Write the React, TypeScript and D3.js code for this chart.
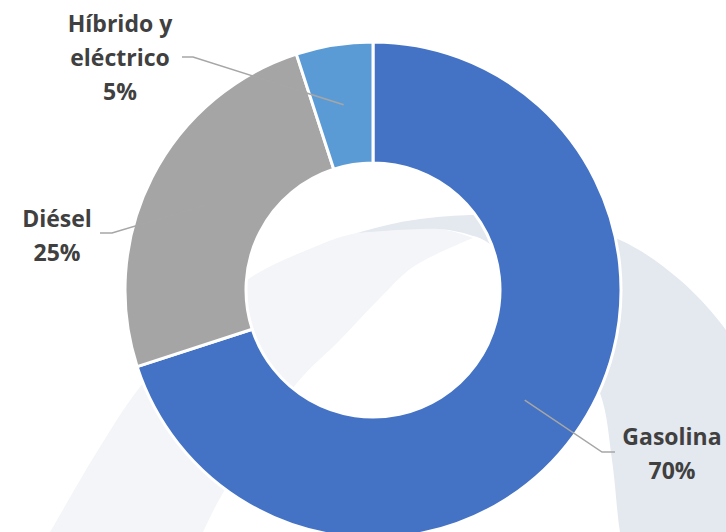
import { useEffect, useRef } from "react";
import * as d3 from "d3";

// chart data
const categories = ["Gasolina", "Diésel", "Híbrido y eléctrico"];
const values = [70, 25, 5];
const colors = ["#4472c4", "#a5a5a5", "#5b9bd5"];
const labelLines = [["Gasolina"], ["Diésel"], ["Híbrido y", "eléctrico"]];

const W = 726;
const H = 532;

// decorative swoosh shapes behind the chart (slide background)
const lightOuter: [number, number][] = [
  [40, 548], [50, 532], [95, 455], [140, 387], [195, 328], [250, 278],
  [307, 250], [357, 233], [440, 229], [473, 238],
];
const lightInner: [number, number][] = [
  [473, 238], [413, 267], [380, 298], [340, 340], [297, 383], [223, 493],
  [203, 532], [196, 548],
];
const darkOuter: [number, number][] = [
  [357, 233], [407, 221], [470, 215], [540, 218], [620, 240], [680, 280],
  [726, 330], [745, 362],
];
const darkInner: [number, number][] = [
  [624, 548], [620, 532], [612, 460], [600, 393], [560, 320], [487, 242],
  [470, 235], [440, 229], [357, 233],
];

// label layout: elbow of the leader, tail end, text centre and first baseline
const labelLayout = [
  { elbow: [602, 452], tail: [615, 452], tx: 672, ty: 445 },
  { elbow: [112, 233], tail: [100, 233], tx: 57, ty: 227 },
  { elbow: [193, 57], tail: [182, 57], tx: 120, ty: 32 },
];

export default function App() {
  const svgRef = useRef<SVGSVGElement>(null);

  useEffect(() => {
    const svg = d3.select(svgRef.current);
    svg.selectAll("*").remove();

    const edge = d3.line().curve(d3.curveCatmullRom.alpha(0.5));
    const band = (a: [number, number][], b: [number, number][], extra: [number, number][] = []) => {
      const p1 = edge(a) as string;
      const mid = extra.map((p) => `L${p[0]},${p[1]}`).join("");
      const p2 = (edge(b) as string).replace(/^M/, "L");
      return p1 + mid + p2 + "Z";
    };

    svg.append("path").attr("d", band(lightOuter, lightInner)).attr("fill", "#f4f5f8");
    svg
      .append("path")
      .attr("d", band(darkOuter, darkInner, [[760, 548]]))
      .attr("fill", "#e4e8ef");

    const cx = 373;
    const cy = 290;
    const outerR = 248;
    const innerR = 127;

    const g = svg.append("g").attr("transform", `translate(${cx},${cy})`);
    const idx = d3.range(values.length);
    const pie = d3
      .pie<number>()
      .value((i) => values[i])
      .sort(null);
    const arc = d3
      .arc<d3.PieArcDatum<number>>()
      .innerRadius(innerR)
      .outerRadius(outerR);
    const arcs = pie(idx);

    g.selectAll("path.slice")
      .data(arcs)
      .join("path")
      .attr("class", "slice")
      .attr("d", arc as never)
      .attr("fill", (d) => colors[d.data])
      .attr("stroke", "#fff")
      .attr("stroke-width", 3)
      .attr("stroke-linejoin", "round");

    // leader lines
    arcs.forEach((d) => {
      const [x0, y0] = arc.centroid(d);
      const L = labelLayout[d.data];
      svg
        .append("polyline")
        .attr(
          "points",
          `${x0 + cx},${y0 + cy} ${L.elbow[0]},${L.elbow[1]} ${L.tail[0]},${L.tail[1]}`
        )
        .attr("fill", "none")
        .attr("stroke", "#a6a6a6")
        .attr("stroke-width", 1.5);
    });

    // labels
    idx.forEach((i) => {
      const L = labelLayout[i];
      const lines = [...labelLines[i], `${values[i]}%`];
      const t = svg
        .append("text")
        .attr("x", L.tx)
        .attr("y", L.ty)
        .attr("text-anchor", "middle")
        .style("font-family", "'Open Sans', sans-serif")
        .style("font-weight", "700")
        .style("font-size", "23px")
        .style("fill", "#404040")
        .attr("aria-label", categories[i]);
      lines.forEach((s, k) => {
        t.append("tspan")
          .attr("x", L.tx)
          .attr("dy", k === 0 ? 0 : 34)
          .text(s);
      });
    });
  }, []);

  return (
    <svg
      ref={svgRef}
      width={W}
      height={H}
      style={{ position: "absolute", left: 0, top: 0, background: "#fff" }}
      role="img"
      aria-label="Donut chart"
    />
  );
}
